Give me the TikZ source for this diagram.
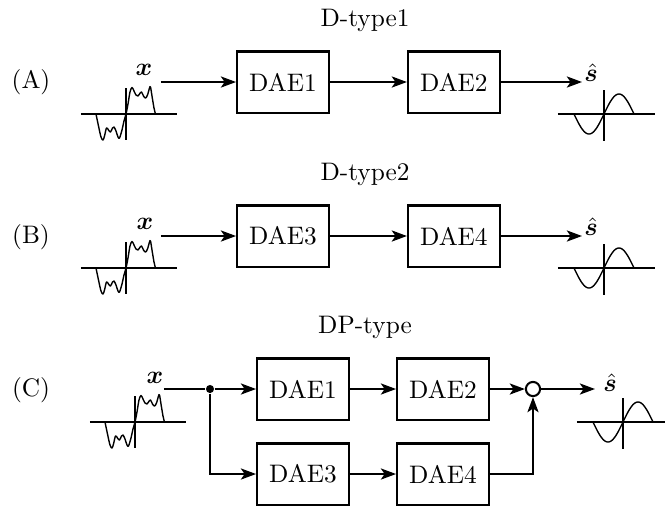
\documentclass[tikz,border=0pt]{standalone}
\usepackage{amsmath}
\usepackage{bm}
\usetikzlibrary{arrows.meta, positioning}

\begin{document}
\begin{tikzpicture}[
    x=0.395pt, y=-0.395pt,
    arr/.style={-{Stealth[length=6pt, width=4.4pt, inset=1.5pt]}, line width=0.8pt},
    dae/.style={draw, line width=0.8pt, minimum width=36.3pt, minimum height=24.1pt},
    lbl/.style={font=\normalsize},
    noisy/.pic={
      \draw[line width=0.55pt] (-45,0) -- (51,0);
      \draw[line width=0.55pt] (0,-26) -- (0,26);
      \draw[line width=0.55pt, line join=round] plot[smooth, tension=0.55] coordinates {
        (-30,0) (-27.5,12) (-25,23) (-23,26) (-21.5,22) (-19.5,14) (-17.5,16)
        (-15.5,18) (-13.5,14) (-12,13) (-10,17) (-8,23) (-6.5,24) (-4,16)
        (-2,7) (0,0) (2,-10) (4,-22) (6,-26.5) (8,-23) (10,-19) (12,-18)
        (13.5,-20) (15.5,-22) (17.5,-18) (19.5,-16) (21.5,-19) (23.5,-26)
        (24.5,-27) (26,-18) (28,-6) (29.5,0)};
    },
    clean/.pic={
      \draw[line width=0.55pt] (-46,0) -- (51,0);
      \draw[line width=0.55pt] (0,-24) -- (0,27);
      \draw[line width=0.55pt] plot[domain=-30:30, samples=61, smooth]
        (\x, {-20*sin(6*\x)});
    }
  ]
    \useasboundingbox (0,0) rectangle (665,506);

    % (A) D-type1
    \node[lbl] (titlea) at (365,20) {D-type1};
    \node[lbl] (taga) at (31,82) {(A)};
    \pic at (126,114) {noisy};
    \pic at (604,114) {clean};
    \node (xa) at (144,70) {$\bm{x}$};
    \coordinate (ina) at (161,82);
    \node[dae] (dae1a) at (283,82) {DAE1};
    \node[dae, right=30.4pt of dae1a] (dae2a) {DAE2};
    \coordinate (outa) at (582,82);
    \node (sa) at (591,73) {$\hat{\bm{s}}$};
    \draw[arr] (ina) -- (dae1a);
    \draw[arr] (dae1a) -- (dae2a);
    \draw[arr] (dae2a) -- (outa);

    % (B) D-type2
    \node[lbl] (titleb) at (365,174) {D-type2};
    \node[lbl] (tagb) at (31,237) {(B)};
    \pic at (126,268) {noisy};
    \pic at (604,268) {clean};
    \node (xb) at (145,224) {$\bm{x}$};
    \coordinate (inb) at (161,236);
    \node[dae] (dae3b) at (283,236) {DAE3};
    \node[dae, right=30.4pt of dae3b] (dae4b) {DAE4};
    \coordinate (outb) at (582,236);
    \node (sb) at (591,227) {$\hat{\bm{s}}$};
    \draw[arr] (inb) -- (dae3b);
    \draw[arr] (dae3b) -- (dae4b);
    \draw[arr] (dae4b) -- (outb);

    % (C) DP-type
    \node[lbl] (titlec) at (365,327) {DP-type};
    \node[lbl] (tagc) at (31,390) {(C)};
    \pic at (135,422) {noisy};
    \pic at (623,422) {clean};
    \node (xc) at (155,378) {$\bm{x}$};
    \coordinate (inc) at (164,389);
    \node[circle, fill, inner sep=0pt, minimum size=3.2pt] (split) at (210,389) {};
    \node[dae] (dae1c) at (303,389) {DAE1};
    \node[dae, right=18.2pt of dae1c] (dae2c) {DAE2};
    \node[dae] (dae3c) at (303,474) {DAE3};
    \node[dae, right=18.2pt of dae3c] (dae4c) {DAE4};
    \node[circle, draw, line width=0.8pt, inner sep=0pt, minimum size=5.6pt] (sum) at (533,389) {};
    \coordinate (outc) at (595,389);
    \node (sc) at (610,383) {$\hat{\bm{s}}$};
    \draw[line width=0.8pt] (inc) -- (split);
    \draw[arr] (split) -- (dae1c);
    \draw[arr] (split) |- (dae3c);
    \draw[arr] (dae1c) -- (dae2c);
    \draw[arr] (dae3c) -- (dae4c);
    \draw[arr] (dae2c) -- (sum);
    \draw[arr] (dae4c) -| (sum);
    \draw[arr] (sum) -- (outc);
\end{tikzpicture}
\end{document}
